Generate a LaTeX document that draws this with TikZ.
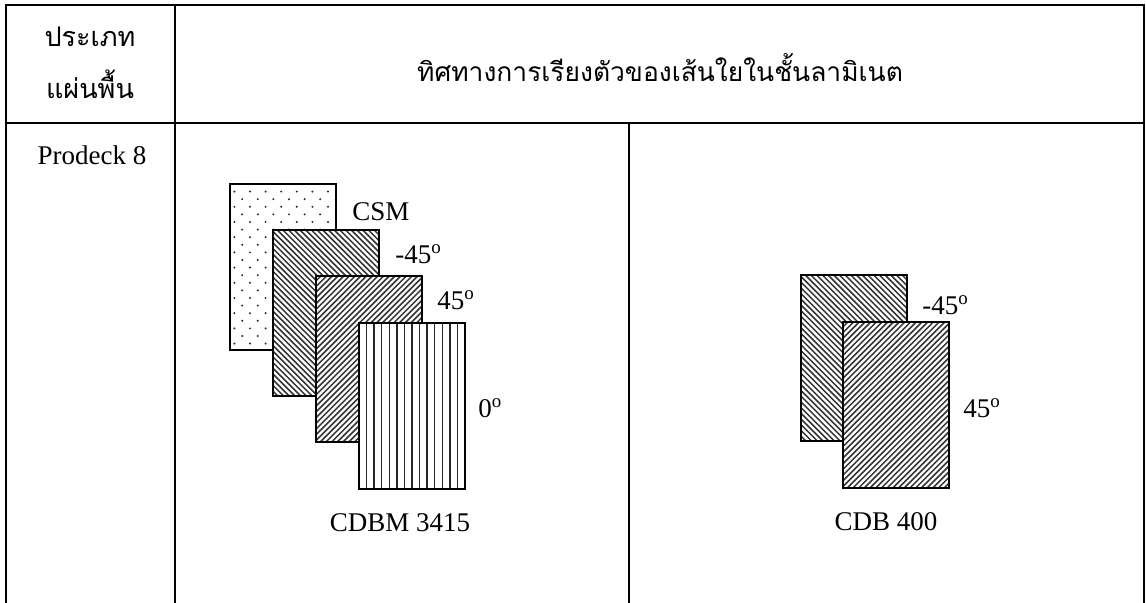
\documentclass[tikz,border=0pt]{standalone}
\usepackage{fontspec}
\setmainfont{Liberation Serif}
\newfontfamily\thaifont[Script=Thai]{Loma}
\usetikzlibrary{calc,positioning}

\tikzset{
  grid line/.style={line width=1pt},
  layer/.style={draw, line width=0.6pt, fill=white, minimum width=53pt,
    minimum height=83pt, inner sep=0pt},
  % chopped strand mat: staggered dots
  dotlayer/.style={layer, path picture={
    \foreach \r in {0,...,21} \foreach \c in {0,...,6} {
      \pgfmathsetmacro\dx{\c*7.8+mod(\r,2)*3.9+2.2}
      \fill[black!85] ($(path picture bounding box.north west)+(\dx pt,-\r*3.8pt-3.8pt)$) circle (0.55pt);}}},
  neglayer/.style={layer, path picture={
    \foreach \k in {-30,...,30}
      \draw[black!80, line width=0.75pt] ($(path picture bounding box.center)+(\k*2.85pt,0)$) ++(-60pt,60pt) -- ++(120pt,-120pt);}},
  poslayer/.style={layer, path picture={
    \foreach \k in {-30,...,30}
      \draw[black!80, line width=0.75pt] ($(path picture bounding box.center)+(\k*2.85pt,0)$) ++(-60pt,-60pt) -- ++(120pt,120pt);}},
  zerolayer/.style={layer, path picture={
    \foreach \k in {1,...,13}
      \draw[black!85, line width=0.7pt] ($(path picture bounding box.south west)+(\k*3.786pt,0)$) -- ++(0,83pt);}},
  tag/.style={font=\fontsize{13.5}{16}\selectfont, inner sep=0pt},
}

\begin{document}
\begin{tikzpicture}[x=0.5pt,y=-0.5pt]
\useasboundingbox (0,0) rectangle (1146,603);

% table rules
\draw[grid line] (6,603) -- (6,5) -- (1144,5) -- (1144,603);
\draw[grid line] (6,123) -- (1144,123);
\draw[grid line] (175,5) -- (175,603);
\draw[grid line] (629,123) -- (629,603);

% header
\node[tag, align=center, font=\thaifont\fontsize{13.5}{26}\selectfont] (hdtype) at (90,63) {ประเภท\\แผ่นพื้น};
\node[tag, font=\thaifont\fontsize{13.2}{16}\selectfont] (hdorient) at (660,68) {ทิศทางการเรียงตัวของเส้นใยในชั้นลามิเนต};
\node[tag] (deck) at (92,155) {Prodeck 8};

% CDBM 3415 stack
\node[dotlayer]  (csm) at (283,267) {};
\node[neglayer]  (lnegA) at (326,313) {};
\node[poslayer]  (lposA) at (369,359) {};
\node[zerolayer] (lzero) at (412,406) {};
\node[tag, anchor=west] (tcsm)   at (352,212) {CSM};
\node[tag, anchor=west] (tnegA)  at (395,254) {-45\textsuperscript{o}};
\node[tag, anchor=west] (tposA)  at (437,300) {45\textsuperscript{o}};
\node[tag, anchor=west] (tzero)  at (478,408) {0\textsuperscript{o}};
\node[tag] (cdbm) at (400,523) {CDBM 3415};

% CDB 400 stack
\node[neglayer] (lnegB) at (854,358) {};
\node[poslayer] (lposB) at (896,405) {};
\node[tag, anchor=west] (tnegB) at (922,305) {-45\textsuperscript{o}};
\node[tag, anchor=west] (tposB) at (963,408) {45\textsuperscript{o}};
\node[tag] (cdb) at (886,522) {CDB 400};
\end{tikzpicture}
\end{document}
